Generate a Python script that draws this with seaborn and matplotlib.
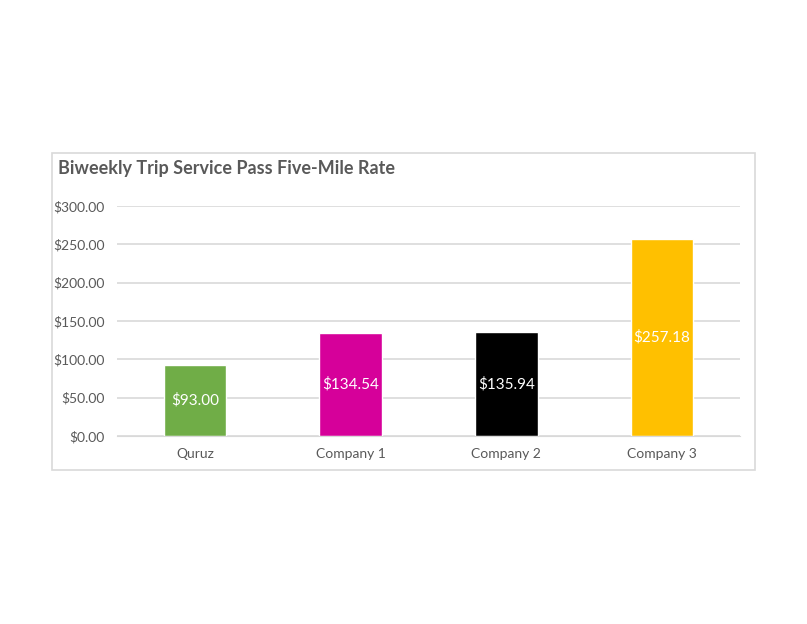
import numpy as np
import matplotlib.pyplot as plt
import matplotlib as mpl
import seaborn as sns
from matplotlib.patches import Rectangle

# %%
# chart data
companies = ["Quruz", "Company 1", "Company 2", "Company 3"]
rates = [93.00, 134.54, 135.94, 257.18]
bar_colors = ["#70AD47", "#D6009A", "#000000", "#FFC000"]

# %%
sns.set_style("white")
mpl.rcParams["font.family"] = ["Lato", "DejaVu Sans"]

W, H = 807, 624
fig = plt.figure(figsize=(W / 100, H / 100), dpi=100)
fig.patch.set_facecolor("white")

# outer chart frame
fig.patches.append(
    Rectangle((52 / W, 1 - 470 / H), (755 - 52) / W, (470 - 153) / H,
              transform=fig.transFigure, fill=False, edgecolor="#D9D9D9", lw=1.2)
)

ax = fig.add_axes([117 / W, 1 - 436 / H, (740 - 117) / W, (436 - 206) / H])
sns.barplot(x=companies, y=rates, hue=companies, palette=bar_colors,
            width=0.4, legend=False, ax=ax, saturation=1)

ax.set_ylim(0, 300)
ax.set_yticks(np.arange(0, 301, 50))
ax.set_yticklabels([f"${v:.2f}" for v in np.arange(0, 301, 50)])
ax.yaxis.grid(True, color="#D9D9D9", lw=1.2)
ax.set_axisbelow(True)
for s in ax.spines.values():
    s.set_visible(False)
ax.spines["bottom"].set_visible(True)
ax.spines["bottom"].set_color("#D9D9D9")
ax.tick_params(axis="both", length=0, labelsize=10, labelcolor="#595959")
ax.tick_params(axis="y", pad=9)
ax.tick_params(axis="x", pad=9)
ax.set_xlabel("")
ax.set_ylabel("")

# value labels in the middle of the bars
for i, v in enumerate(rates):
    ax.text(i, v / 2, f"${v:.2f}", ha="center", va="center",
            color="white", fontsize=11)

fig.text(58 / W, 1 - 169 / H, "Biweekly Trip Service Pass Five-Mile Rate",
         ha="left", va="center", fontsize=13, fontweight="bold", color="#595959")

plt.savefig("out.png", dpi=100)
